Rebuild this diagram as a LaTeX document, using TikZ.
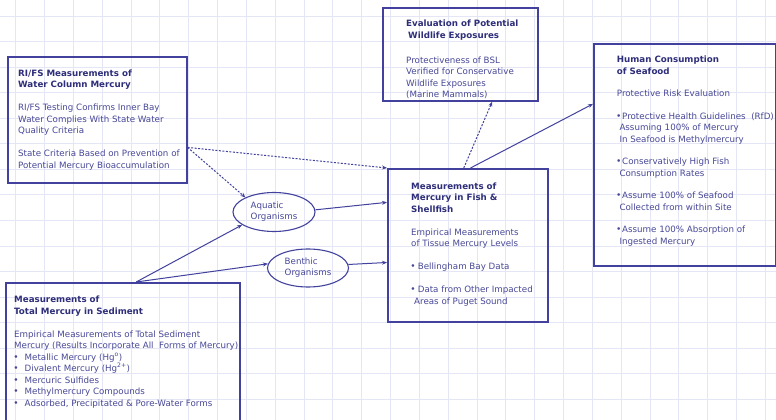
\documentclass[tikz,border=0pt]{standalone}
\usepackage{fontspec}
\setmainfont{DejaVu Sans}
\usetikzlibrary{shapes.geometric,arrows.meta}
\definecolor{inkline}{RGB}{66,66,158}
\definecolor{inkhead}{RGB}{46,46,122}
\definecolor{inkbody}{RGB}{72,72,152}
\definecolor{gridcol}{RGB}{228,230,245}
\newcommand\hd[1]{\textbf{\color{inkhead}#1}}
\newcommand\dotmark{\raisebox{2pt}{$\scriptstyle\bullet$}}
\begin{document}
\begin{tikzpicture}[x = 1pt, y = -1pt,
  box/.style = {draw = inkline, line width = 1.6pt, anchor = north west, inner sep = 0pt},
  txt/.style = {anchor = north west, align = left, inner sep = 0pt, text = inkbody, font = \fontsize{8.7}{11.5}\selectfont},
  blob/.style = {ellipse, draw = inkline, line width = 1.1pt, inner sep = 0pt, align = left, text = inkbody, font = \fontsize{8.7}{11}\selectfont},
  arr/.style = {draw = inkline, line width = 1pt, -{Stealth[length = 5pt, width = 4pt]}},
  darr/.style = {arr, dash pattern = on 2pt off 1.5pt}]
\useasboundingbox (0,0) rectangle (776,420);
\fill[white] (0,0) rectangle (776,420);
\foreach \i in {0,...,26} \draw[gridcol, line width = 0.8pt] ({15.7+28.83*\i},0) -- ({15.7+28.83*\i},420);
\foreach \j in {0,...,15} \draw[gridcol, line width = 0.8pt] (0,{16+25.55*\j}) -- (776,{16+25.55*\j});
\node[box, minimum width = 179pt, minimum height = 126pt] at (7,56) (rifs) {};
\node[box, minimum width = 234pt, minimum height = 150pt] at (5,282) (sed) {};
\node[box, minimum width = 160pt, minimum height = 153pt] at (387,168) (fish) {};
\node[box, minimum width = 155pt, minimum height = 93pt] at (382,7) (wild) {};
\node[box, minimum width = 182pt, minimum height = 222pt] at (593,43) (hum) {};
\node[txt] at (18,69.6) (rifs-txt) {\hd{RI/FS Measurements of}\\ \hd{Water Column Mercury}\\[11.5pt]
  RI/FS Testing Confirms Inner Bay\\ Water Complies With State Water\\ Quality Criteria\\[11.5pt]
  State Criteria Based on Prevention of\\ Potential Mercury Bioaccumulation};
\node[txt] at (14,295.9) (sed-txt) {\hd{Measurements of}\\ \hd{Total Mercury in Sediment}\\[11.5pt]
  Empirical Measurements of Total Sediment\\ Mercury (Results Incorporate All~ Forms of Mercury)\\
  \makebox[10.5pt][l]{\dotmark}Metallic Mercury (Hg\textsuperscript{o})\\
  \makebox[10.5pt][l]{\dotmark}Divalent Mercury (Hg\textsuperscript{2+})\\
  \makebox[10.5pt][l]{\dotmark}Mercuric Sulfides\\
  \makebox[10.5pt][l]{\dotmark}Methylmercury Compounds\\
  \makebox[10.5pt][l]{\dotmark}Adsorbed, Precipitated \& Pore-Water Forms};
\node[txt] at (411,182.3) (fish-txt) {\hd{Measurements of}\\ \hd{Mercury in Fish \&}\\ \hd{Shellfish}\\[11.5pt]
  Empirical Measurements\\ of Tissue Mercury Levels\\[11.5pt]
  \dotmark\ Bellingham Bay Data\\[11.5pt]
  \dotmark\ Data from Other Impacted\\ \hspace*{3pt}Areas of Puget Sound};
\node[txt] at (406,19.9) (wild-txt) {\hd{Evaluation of Potential}\\ \hspace*{2pt}\hd{Wildlife Exposures}\\[13.5pt]
  Protectiveness of BSL\\ Verified for Conservative\\ Wildlife Exposures\\ (Marine Mammals)};
\node[txt] at (616.7,56.1) (hum-txt) {\hd{Human Consumption}\\ \hd{of Seafood}\\[11pt]
  Protective Risk Evaluation\\[11pt]
  \dotmark\,Protective Health Guidelines~ (RfD)\\ \hspace*{2.6pt}Assuming 100\% of Mercury\\ \hspace*{2.6pt}In Seafood is Methylmercury\\[11pt]
  \dotmark\,Conservatively High Fish\\ \hspace*{2.6pt}Consumption Rates\\[11pt]
  \dotmark\,Assume 100\% of Seafood\\ \hspace*{2.6pt}Collected from within Site\\[11pt]
  \dotmark\,Assume 100\% Absorption of\\ \hspace*{2.6pt}Ingested Mercury};
\node[blob, minimum width = 82pt, minimum height = 39pt] at (274,212) (aq) {Aquatic\\Organisms};
\node[blob, minimum width = 81pt, minimum height = 38pt] at (308,268) (bn) {Benthic\\Organisms};
\draw[darr] (rifs.-17) -- (aq.153);
\draw[darr] (rifs.-17) -- (fish.north west);
\draw[arr] (sed.80) -- (aq.202);
\draw[arr] (sed.80) -- (bn.174);
\draw[arr] (aq.3) -- (fish.152);
\draw[arr] (bn.5) -- (fish.192);
\draw[darr] (fish.93) -- (wild.-56);
\draw[arr] (fish.88) -- (hum.151);
\end{tikzpicture}
\end{document}
